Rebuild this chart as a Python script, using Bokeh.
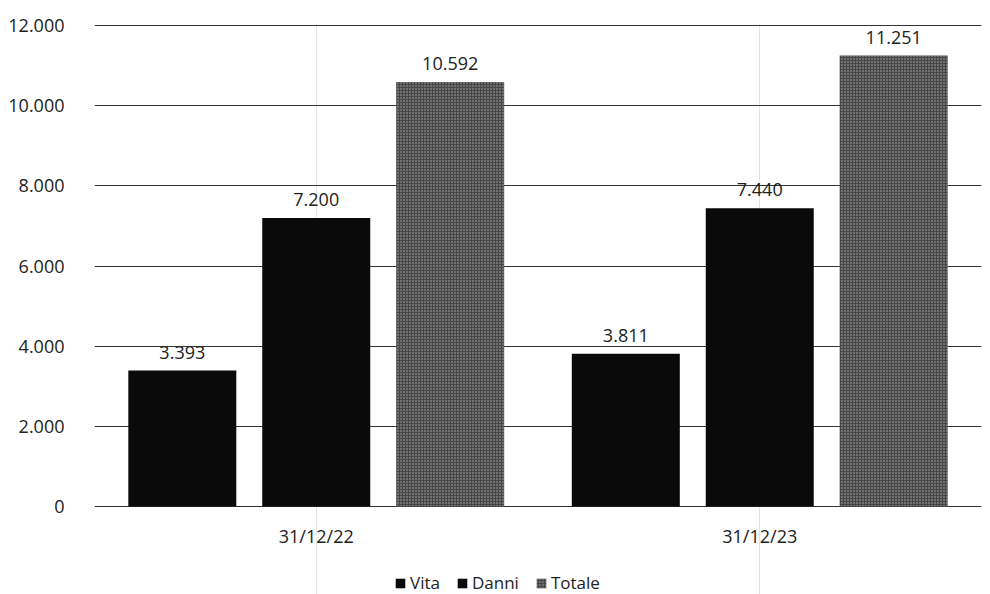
from bokeh.plotting import figure
from bokeh.models import ColumnDataSource, FactorRange, Legend, LegendItem, FixedTicker
from bokeh.transform import dodge
from bokeh.embed import file_html
from bokeh.resources import INLINE
from bokeh.core.properties import value

dates = ["31/12/22", "31/12/23"]
series = ["Vita", "Danni", "Totale"]
vita = [3393, 3811]
danni = [7200, 7440]
totale = [10592, 11251]
y_ticks = [0, 2000, 4000, 6000, 8000, 10000, 12000]
y_tick_labels = ["0", "2.000", "4.000", "6.000", "8.000", "10.000", "12.000"]

FONT = "Open Sans"
TXT = "#222222"

values = {"Vita": vita, "Danni": danni, "Totale": totale}

p = figure(
    x_range=FactorRange(*dates, factor_padding=0.0, range_padding=0.0),
    y_range=(-2195, 12050),
    width=990, height=594,
    x_axis_location=None,
    output_backend="svg", toolbar_location=None,
    min_border_left=94, min_border_right=9, min_border_top=23, min_border_bottom=0,
)
p.outline_line_color = None
p.background_fill_color = "white"
p.border_fill_color = "white"

styles = {
    "Vita": dict(fill_color="#0a0a0a"),
    "Danni": dict(fill_color="#0a0a0a"),
    "Totale": dict(fill_color="#474747", hatch_pattern="dot", hatch_color="#d0d0d0",
                   hatch_alpha=0.75, hatch_scale=3, hatch_weight=1),
}
offsets = {"Vita": -0.302, "Danni": 0.0, "Totale": 0.302}
BAR_W = 0.2435

renderers = {}
for s in series:
    src = ColumnDataSource(dict(
        x=dates, top=values[s],
        label=[f"{v:,}".replace(",", ".") for v in values[s]],
    ))
    xd = dodge("x", offsets[s], range=p.x_range)
    r = p.vbar(x=xd, top="top", bottom=0, width=BAR_W, source=src, line_color=None,
               **styles[s])
    renderers[s] = r
    p.text(x=xd, y="top", text="label", source=src, text_align="center",
           text_baseline="bottom", y_offset=-12, text_font=value(FONT),
           text_font_size="18px", text_color=TXT)

# category labels under the baseline
cat_src = ColumnDataSource(dict(x=dates, label=dates))
p.text(x="x", y=0, text="label", source=cat_src, text_align="center",
       text_baseline="middle", y_offset=29, text_font=value(FONT),
       text_font_size="18px", text_color=TXT)

# y axis
p.yaxis.ticker = FixedTicker(ticks=y_ticks)
p.yaxis.major_label_overrides = {t: l for t, l in zip(y_ticks, y_tick_labels)}
p.yaxis.axis_line_color = None
p.yaxis.major_tick_line_color = None
p.yaxis.minor_tick_line_color = None
p.yaxis.major_label_text_font = FONT
p.yaxis.major_label_text_font_size = "18px"
p.yaxis.major_label_text_color = TXT
p.yaxis.major_label_standoff = 24

p.ygrid.ticker = FixedTicker(ticks=y_ticks)
p.ygrid.grid_line_color = "#333333"
p.ygrid.grid_line_width = 1

legend = Legend(
    items=[LegendItem(label=s, renderers=[renderers[s]]) for s in series],
    orientation="horizontal", location=(300, 0),
    label_text_font=FONT, label_text_font_size="17px", label_text_color=TXT,
    glyph_width=12, glyph_height=12, spacing=16, label_standoff=4,
    border_line_color=None, background_fill_alpha=0, margin=0, padding=4,
    label_height=18,
)
p.add_layout(legend, "center")

open("out.html", "w").write(file_html(p, INLINE))
